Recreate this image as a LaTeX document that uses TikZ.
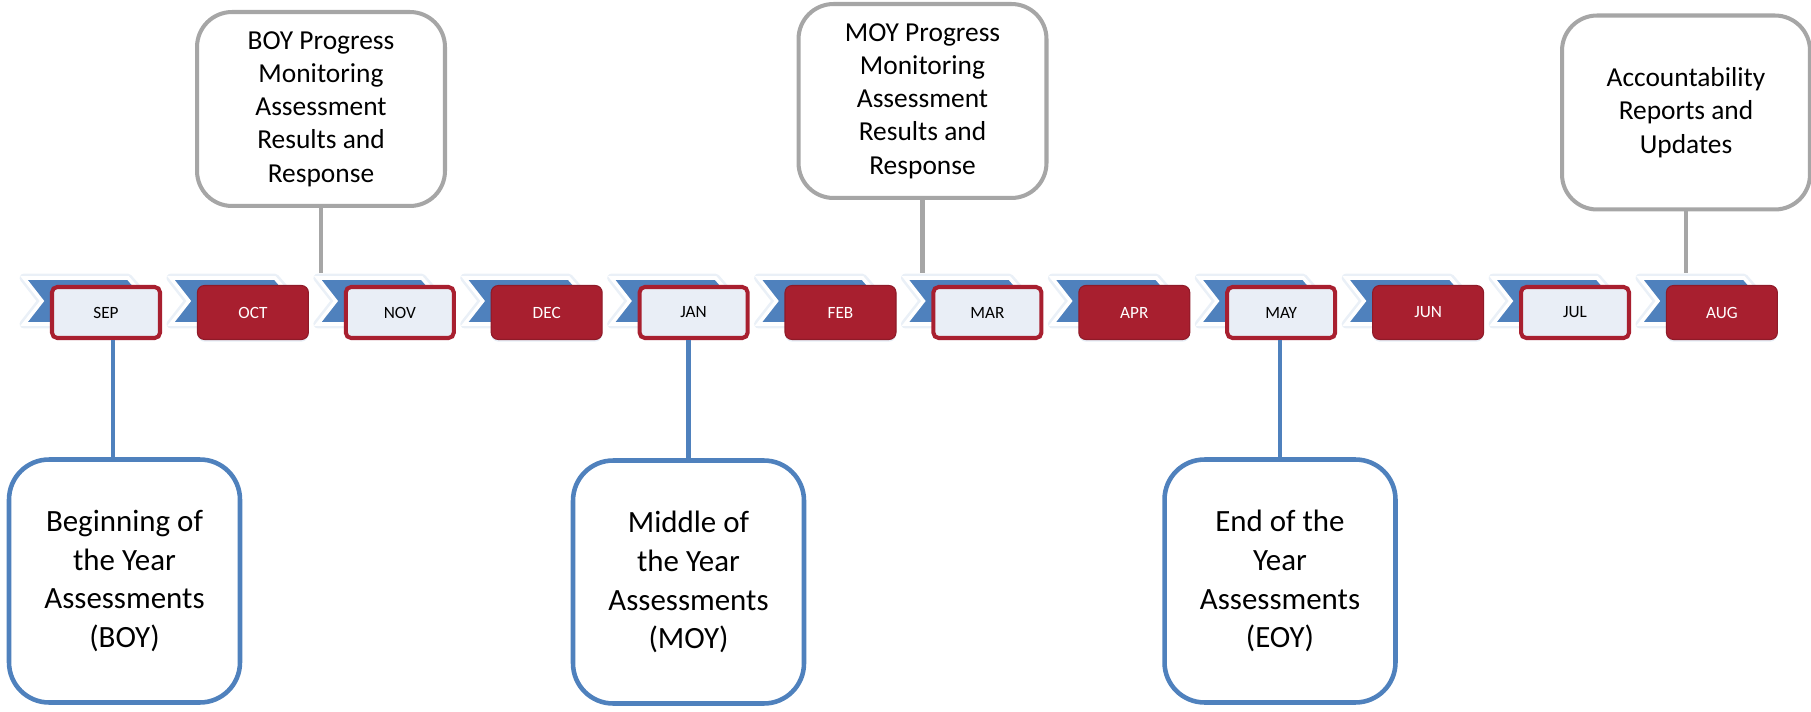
\documentclass[tikz,border=0pt]{standalone}
\usepackage{fontspec}
\setmainfont{Carlito}
\usepackage{xcolor}
\usetikzlibrary{shadows}

\definecolor{chevblue}{HTML}{4F81BD}
\definecolor{monthred}{HTML}{A81F2F}
\definecolor{monthpale}{HTML}{E9EEF6}
\definecolor{callgray}{HTML}{A6A6A6}

\tikzset{
    whitemonth/.style={draw=monthred, line width=2.3pt, fill=monthpale, rounded corners=3pt,
        minimum width=2.16cm, minimum height=1.02cm, text=black,
        font=\fontsize{9.8}{11}\selectfont},
    redmonth/.style={draw=monthred!85!black, line width=0.6pt, fill=monthred, rounded corners=4pt,
        minimum width=2.22cm, minimum height=1.08cm, text=white,
        font=\fontsize{9.8}{11}\selectfont},
    pmbox/.style={draw=callgray, line width=2.3pt, fill=white, rounded corners=0.7cm,
        minimum width=4.96cm, minimum height=3.88cm, align=center,
        font=\fontsize{15.6}{18.9}\selectfont},
    termbox/.style={draw=chevblue, line width=2.6pt, fill=white, rounded corners=0.8cm,
        minimum width=4.62cm, minimum height=4.86cm, align=center,
        font=\fontsize{17.6}{22.1}\selectfont},
    graylink/.style={draw=callgray, line width=2.8pt},
    bluelink/.style={draw=chevblue, line width=2.8pt}
}

\begin{document}
\begin{tikzpicture}[x=0.02cm, y=-0.02cm]
    \useasboundingbox (0,0) rectangle (1811,712);

    \foreach \m/\kind [count=\i from 0] in {SEP/whitemonth, OCT/redmonth, NOV/whitemonth,
        DEC/redmonth, JAN/whitemonth, FEB/redmonth, MAR/whitemonth, APR/redmonth,
        MAY/whitemonth, JUN/redmonth, JUL/whitemonth, AUG/redmonth} {
        \pgfmathsetmacro\cx{106+146.9*\i}
        \draw[chevblue!12, line width=5pt, line join=round]
            (\cx-82,278) -- (\cx+22,278) -- (\cx+42,301) -- (\cx+22,324)
            -- (\cx-82,324) -- (\cx-64,301) -- cycle;
        \filldraw[fill=chevblue, draw=white, line width=2pt]
            (\cx-82,278) -- (\cx+22,278) -- (\cx+42,301) -- (\cx+22,324)
            -- (\cx-82,324) -- (\cx-64,301) -- cycle;
        \coordinate (c\i) at (\cx-20,273);
        \node[\kind, drop shadow={shadow xshift=0pt, shadow yshift=-1.2pt, fill=chevblue!40, opacity=0.35}]
            (m\i) at (\cx,312.5) {\m};
    }

    \node[pmbox] (boyPM) at (321,109) {BOY Progress\\Monitoring\\Assessment\\Results and\\Response};
    \node[pmbox] (moyPM) at (922.5,101) {MOY Progress\\Monitoring\\Assessment\\Results and\\Response};
    \node[pmbox] (acct) at (1686,112.5) {Accountability\\Reports and\\Updates};

    \draw[graylink] (boyPM.south) -- (boyPM.south |- c2);
    \draw[graylink] (moyPM.south) -- (moyPM.south |- c6);
    \draw[graylink] (acct.south) -- (acct.south |- c11);

    \node[termbox] (boyA) at (124.5,581) {Beginning of\\the Year\\Assessments\\(BOY)};
    \node[termbox] (moyA) at (688.5,582) {Middle of\\the Year\\Assessments\\(MOY)};
    \node[termbox] (eoyA) at (1280,581) {End of the\\Year\\Assessments\\(EOY)};

    \draw[bluelink] ([xshift=0.14cm]m0.south) -- ([xshift=0.14cm]m0.south |- boyA.north);
    \draw[bluelink] (moyA.north) -- (moyA.north |- m4.south);
    \draw[bluelink] (eoyA.north) -- (eoyA.north |- m8.south);

\end{tikzpicture}
\end{document}
